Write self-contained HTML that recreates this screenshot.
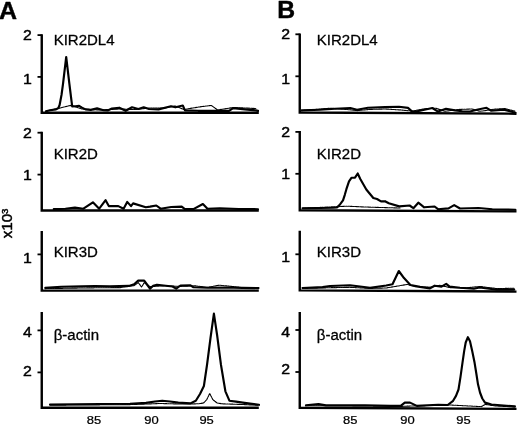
<!DOCTYPE html>
<html lang="en">
<head>
<meta charset="utf-8">
<title>Figure</title>
<style>
html,body{margin:0;padding:0;background:#fff;}
body{width:520px;height:428px;overflow:hidden;font-family:"Liberation Sans",Arial,Helvetica,sans-serif;}
svg{display:block;will-change:transform;transform:translateZ(0);}
</style>
</head>
<body>
<svg width="520" height="428" viewBox="0 0 520 428">
<rect width="520" height="428" fill="#fff"/>
<g fill="none" stroke="#000" stroke-linejoin="miter" stroke-linecap="butt">
<polyline points="41.75,34.2 41.75,112.80 258.8,112.80" stroke-width="2.4"/>
<polyline points="41.75,131.8 41.75,210.50 258.8,210.50" stroke-width="2.4"/>
<polyline points="41.75,231.0 41.75,290.65 258.8,290.65" stroke-width="2.4"/>
<polyline points="41.75,311.9 41.75,407.70 258.8,407.70" stroke-width="2.4"/>
<polyline points="299.75,33.4 299.75,112.50 516.5,113.70" stroke-width="2.4"/>
<polyline points="299.75,130.9 299.75,210.20 516.5,211.40" stroke-width="2.4"/>
<polyline points="299.75,230.7 299.75,290.40 516.5,291.60" stroke-width="2.4"/>
<polyline points="299.75,311.9 299.75,407.70 516.5,408.90" stroke-width="2.4"/>
</g>
<g stroke="#000" stroke-width="1.8">
<line x1="37.5" y1="35.1" x2="41.8" y2="35.1"/>
<line x1="37.5" y1="76.9" x2="41.8" y2="76.9"/>
<line x1="37.5" y1="132.7" x2="41.8" y2="132.7"/>
<line x1="37.5" y1="174.6" x2="41.8" y2="174.6"/>
<line x1="37.5" y1="254.4" x2="41.8" y2="254.4"/>
<line x1="37.5" y1="330.4" x2="41.8" y2="330.4"/>
<line x1="37.5" y1="372.4" x2="41.8" y2="372.4"/>
<line x1="295.4" y1="34.3" x2="299.8" y2="34.3"/>
<line x1="295.4" y1="76.3" x2="299.8" y2="76.3"/>
<line x1="295.4" y1="131.9" x2="299.8" y2="131.9"/>
<line x1="295.4" y1="173.8" x2="299.8" y2="173.8"/>
<line x1="295.4" y1="254.3" x2="299.8" y2="254.3"/>
<line x1="295.4" y1="330.0" x2="299.8" y2="330.0"/>
<line x1="295.4" y1="372.0" x2="299.8" y2="372.0"/>
</g>
<g fill="none" stroke="#000" stroke-linejoin="round" stroke-linecap="round">
<polyline points="46.0,111.3 50.0,110.3 56.0,109.4 58.4,108.0 59.6,105.0 61.5,95.0 63.0,84.0 66.2,57.0 69.4,84.0 71.0,97.0 72.2,106.4 75.5,106.3 79.1,105.8 82.0,107.6 85.5,109.4 90.8,109.9 97.1,108.4 103.5,110.2 107.7,110.4 111.9,108.6 119.3,107.7 125.7,110.8 132.0,107.3 138.4,109.0 143.7,107.3 149.0,109.0 158.5,109.4 171.0,106.2 175.4,107.3 182.8,105.5 185.0,110.4 198.0,110.8 217.7,110.8 229.0,110.8 233.2,108.1 245.0,109.4 255.8,110.4 258.0,110.9" stroke-width="2.15"/>
<polyline points="46.3,111.0 58.0,108.5 70.5,105.4 82.0,109.0 100.0,110.0 120.0,109.0 135.0,109.5 150.0,108.0 165.0,108.0 175.0,106.0 184.0,109.5 198.7,107.0 211.3,105.4 217.7,110.0 233.6,107.5 255.8,108.5" stroke-width="1.1" stroke-dasharray="1.6 0.8"/>
<polyline points="53.8,209.1 65.4,208.7 74.9,207.6 83.4,208.7 92.9,202.3 99.2,208.7 105.6,200.2 108.8,206.1 118.3,206.1 123.6,208.7 127.2,201.9 131.0,206.1 133.1,203.4 145.8,207.2 150.0,206.6 156.3,205.5 160.6,208.7 171.2,207.0 181.7,206.6 184.9,209.1 193.4,209.1 202.9,204.0 207.5,208.7 219.8,208.2 238.8,209.0 258.0,209.2" stroke-width="2.15"/>
<polyline points="45.3,287.9 61.2,286.8 82.3,286.4 95.0,286.0 109.8,286.4 128.9,285.9 134.1,284.2 138.2,280.6 144.2,280.6 147.0,284.5 150.0,288.6 153.2,285.7 157.0,284.7 172.5,286.5 176.2,288.7 180.5,285.5 190.5,285.3 193.5,287.3 207.5,287.7 225.0,287.5 242.5,287.9 258.5,288.1" stroke-width="2.15"/>
<polyline points="45.3,288.6 70.0,288.2 95.0,287.8 120.0,287.6 134.0,285.6 138.3,282.6 141.5,287.0 144.3,282.6 150.0,286.6 165.0,285.8 180.0,286.4 195.0,285.8 207.5,287.4 219.0,285.2 232.0,286.4 242.5,287.6 258.0,287.8" stroke-width="1.1" stroke-dasharray="1.6 0.8"/>
<polyline points="50.0,404.5 100.0,404.0 130.0,403.8 146.0,402.9 155.0,401.5 162.2,400.7 170.0,401.5 178.3,402.6 190.4,403.4 195.8,400.7 200.0,394.0 203.9,386.0 207.0,365.0 210.5,338.0 213.9,313.6 217.1,335.0 221.0,365.0 225.4,391.3 229.4,400.7 236.0,401.6 242.8,402.6 250.0,403.6 259.0,404.8" stroke-width="2.15"/>
<polyline points="50.0,405.2 130.0,404.6 160.0,403.5 180.0,404.0 198.5,403.8 203.5,403.0 206.8,399.6 209.7,393.4 212.8,399.6 217.0,403.0 222.0,403.8 240.0,404.4 258.0,405.2" stroke-width="1.1" stroke-dasharray="1.6 0.8"/>
<polyline points="301.6,110.4 320.0,109.7 335.0,108.8 350.3,108.0 357.0,109.8 368.0,107.7 385.0,107.1 399.0,106.8 408.0,107.9 412.7,112.1 420.0,110.7 432.3,108.0 438.0,111.6 446.0,108.8 455.0,110.4 462.3,111.2 470.0,111.5 478.0,109.5 486.5,107.8 491.0,110.7 503.8,109.6 510.0,111.2 515.4,112.7" stroke-width="2.15"/>
<polyline points="301.6,110.6 330.0,108.2 350.0,109.8 357.0,110.6 370.0,109.4 385.0,109.0 400.0,109.9 412.0,111.1 425.0,108.7 436.0,108.3 445.0,111.3 460.0,109.4 472.0,109.0 480.0,111.3 495.0,109.1 505.0,108.6 515.0,111.2" stroke-width="1.1" stroke-dasharray="1.6 0.8"/>
<polyline points="302.5,208.2 320.0,208.0 333.0,207.8 336.9,207.5 340.0,204.4 343.0,200.4 344.8,194.8 346.4,189.2 349.0,181.4 351.6,177.7 355.0,177.7 357.7,173.5 360.3,179.0 366.3,189.5 373.3,198.0 377.0,199.0 381.0,201.4 385.0,201.2 388.8,203.2 399.2,206.4 409.6,205.5 413.4,208.2 418.3,202.7 424.2,207.3 434.6,206.5 438.0,209.2 448.5,208.4 454.2,205.1 460.0,208.5 478.5,208.0 492.3,209.2 515.4,209.8" stroke-width="2.15"/>
<polyline points="302.5,208.2 325.0,207.2 347.5,206.2 365.0,207.0 385.0,207.6 400.0,208.0" stroke-width="1.1" stroke-dasharray="1.6 0.8"/>
<polyline points="302.5,288.0 322.5,287.1 330.0,286.0 350.0,285.3 360.0,286.5 370.0,287.9 386.2,285.5 392.5,284.3 398.8,271.0 404.0,278.1 410.4,285.0 420.0,286.9 430.0,288.4 434.6,285.7 441.5,286.6 446.2,283.8 449.6,286.6 460.0,287.7 473.8,288.7 479.6,287.5 497.0,289.7 514.2,289.6" stroke-width="2.15"/>
<polyline points="302.5,288.5 330.0,287.7 350.0,287.3 370.0,288.4 386.0,288.0 395.0,286.5 407.5,284.4 415.0,286.6 430.0,287.2 440.0,285.3 450.0,287.6 465.0,287.9 480.0,286.5 497.0,288.6 514.0,288.2" stroke-width="1.1" stroke-dasharray="1.6 0.8"/>
<polyline points="306.0,405.3 318.5,404.1 326.0,405.4 345.0,405.4 365.0,405.2 390.0,405.9 400.7,405.9 404.8,402.6 410.0,402.6 416.9,405.9 438.3,404.8 447.7,405.0 453.1,400.8 456.0,395.9 458.5,389.5 460.5,376.9 462.5,362.7 464.2,350.9 465.7,342.5 467.9,337.2 470.0,341.2 472.2,351.0 474.6,362.8 476.4,374.0 478.0,384.3 480.0,392.5 482.3,398.5 485.0,402.6 491.5,404.5 497.4,405.0 514.9,406.4" stroke-width="2.15"/>
<polyline points="306.0,405.8 350.0,405.8 400.0,406.4 420.0,405.7 450.4,405.0 481.3,406.6 485.4,404.4 495.0,405.9 514.9,407.0" stroke-width="1.1" stroke-dasharray="1.6 0.8"/>
</g>
<g font-family="Liberation Sans, Arial, Helvetica, sans-serif" fill="#000" stroke="#000" stroke-width="0.45" stroke-linejoin="round">
<text transform="translate(-0.9,19.1) scale(1.04,1.03)" font-size="24" font-weight="bold">A</text>
<text transform="translate(277.3,18.3) scale(1.03,1.0)" font-size="24" font-weight="bold">B</text>
<text transform="translate(31.9,40.1) scale(1.06,0.98)" font-size="15" text-anchor="end">2</text>
<text transform="translate(31.9,84.3) scale(1.06,0.98)" font-size="15" text-anchor="end">1</text>
<text transform="translate(31.9,137.7) scale(1.06,0.98)" font-size="15" text-anchor="end">2</text>
<text transform="translate(31.9,180.3) scale(1.06,0.98)" font-size="15" text-anchor="end">1</text>
<text transform="translate(31.9,262.7) scale(1.06,0.98)" font-size="15" text-anchor="end">1</text>
<text transform="translate(31.9,337.1) scale(1.06,0.98)" font-size="15" text-anchor="end">4</text>
<text transform="translate(31.9,375.6) scale(1.06,0.98)" font-size="15" text-anchor="end">2</text>
<text transform="translate(290.1,39.0) scale(1.06,0.98)" font-size="15" text-anchor="end">2</text>
<text transform="translate(290.1,83.6) scale(1.06,0.98)" font-size="15" text-anchor="end">1</text>
<text transform="translate(290.1,136.7) scale(1.06,0.98)" font-size="15" text-anchor="end">2</text>
<text transform="translate(290.1,179.3) scale(1.06,0.98)" font-size="15" text-anchor="end">1</text>
<text transform="translate(290.1,261.8) scale(1.06,0.98)" font-size="15" text-anchor="end">1</text>
<text transform="translate(290.1,336.6) scale(1.06,0.98)" font-size="15" text-anchor="end">4</text>
<text transform="translate(290.1,373.9) scale(1.06,0.98)" font-size="15" text-anchor="end">2</text>
<text transform="translate(53.7,45.1) scale(1.0,0.935)" font-size="15" stroke-width="0.3">KIR2DL4</text>
<text transform="translate(53.7,159.0) scale(1.0,0.935)" font-size="15" stroke-width="0.3">KIR2D</text>
<text transform="translate(53.7,257.3) scale(1.0,0.935)" font-size="15" stroke-width="0.3">KIR3D</text>
<text transform="translate(53.7,340.1) scale(1.0,0.935)" font-size="15" stroke-width="0.3">β-actin</text>
<text transform="translate(316.8,45.1) scale(1.0,0.935)" font-size="15" stroke-width="0.3">KIR2DL4</text>
<text transform="translate(316.8,159.0) scale(1.0,0.935)" font-size="15" stroke-width="0.3">KIR2D</text>
<text transform="translate(316.8,257.3) scale(1.0,0.935)" font-size="15" stroke-width="0.3">KIR3D</text>
<text transform="translate(316.8,340.1) scale(1.0,0.935)" font-size="15" stroke-width="0.3">β-actin</text>
<text transform="translate(93.9,423.9) scale(1.09,0.95)" font-size="11.9" text-anchor="middle" stroke-width="0.25">85</text>
<text transform="translate(151.5,423.9) scale(1.09,0.95)" font-size="11.9" text-anchor="middle" stroke-width="0.25">90</text>
<text transform="translate(206.6,423.9) scale(1.09,0.95)" font-size="11.9" text-anchor="middle" stroke-width="0.25">95</text>
<text transform="translate(350.3,423.9) scale(1.09,0.95)" font-size="11.9" text-anchor="middle" stroke-width="0.25">85</text>
<text transform="translate(407.4,423.9) scale(1.09,0.95)" font-size="11.9" text-anchor="middle" stroke-width="0.25">90</text>
<text transform="translate(463.5,423.9) scale(1.09,0.95)" font-size="11.9" text-anchor="middle" stroke-width="0.25">95</text>
<text transform="translate(12.3,238.3) rotate(-90) scale(1.12,1.02)" font-size="13.5">x10<tspan font-size="8.5" dy="-4.6">3</tspan></text>
</g>
</svg>
</body>
</html>
